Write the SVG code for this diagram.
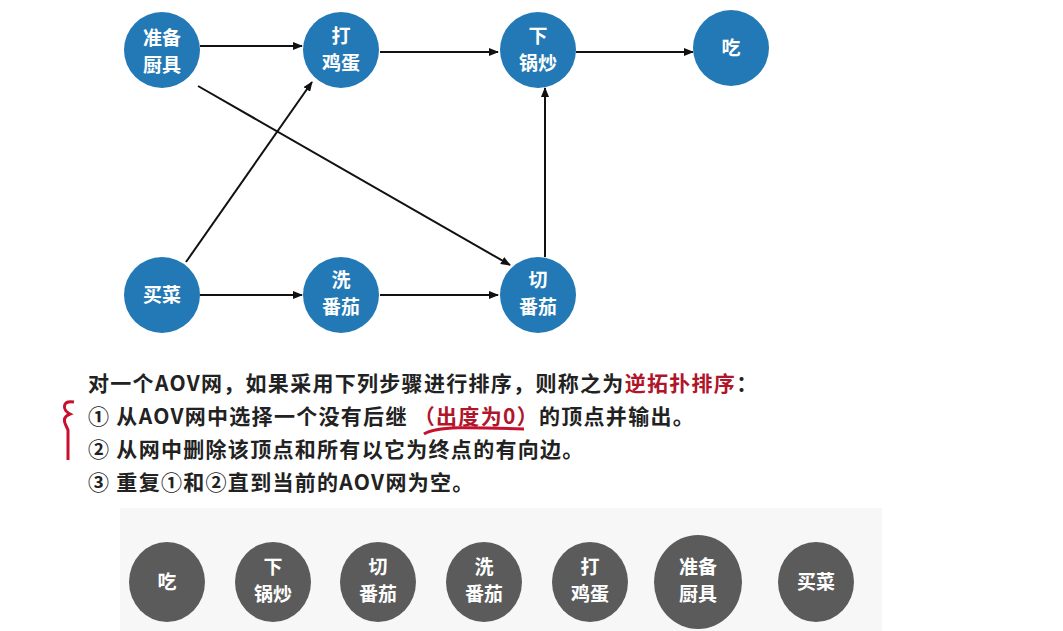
<svg xmlns="http://www.w3.org/2000/svg" width="1063" height="631" viewBox="0 0 1063 631">
<style>
.n{fill:#2379b5}
.g{fill:#5b5b5b}
.t{fill:#fff;font-family:"Noto Sans CJK SC",sans-serif;font-size:19px;font-weight:bold;text-anchor:middle}
.e{stroke:#111;stroke-width:2;fill:none;marker-end:url(#a)}
.p{font-family:"Noto Sans CJK SC",sans-serif;font-size:21px;font-weight:bold;fill:#222;letter-spacing:1.3px}
</style>
<defs><marker id="a" markerWidth="10" markerHeight="8" refX="9" refY="4" orient="auto" markerUnits="userSpaceOnUse"><path d="M0,0L10,4L0,8z" fill="#111"/></marker></defs>
<rect width="1063" height="631" fill="#fff"/>
<g id="edges">
<line class="e" x1="200" y1="46" x2="302" y2="46"/>
<line class="e" x1="380" y1="52" x2="498" y2="52"/>
<line class="e" x1="576" y1="52" x2="693" y2="52"/>
<line class="e" x1="200" y1="295" x2="302" y2="295"/>
<line class="e" x1="380" y1="295" x2="498" y2="295"/>
<line class="e" x1="545" y1="257" x2="545" y2="88"/>
<line class="e" x1="198" y1="86" x2="510" y2="265"/>
<line class="e" x1="186" y1="262" x2="312" y2="82"/>
</g>
<g id="n1"><circle class="n" cx="162" cy="50" r="38"/><text class="t" x="162" y="45">准备</text><text class="t" x="162" y="72">厨具</text></g>
<g id="n2"><circle class="n" cx="341" cy="50" r="38"/><text class="t" x="341" y="43">打</text><text class="t" x="341" y="70">鸡蛋</text></g>
<g id="n3"><circle class="n" cx="538" cy="50" r="38"/><text class="t" x="538" y="43">下</text><text class="t" x="538" y="70">锅炒</text></g>
<g id="n4"><circle class="n" cx="731" cy="48" r="38"/><text class="t" x="731" y="55">吃</text></g>
<g id="n5"><circle class="n" cx="162" cy="295" r="38"/><text class="t" x="162" y="302">买菜</text></g>
<g id="n6"><circle class="n" cx="341" cy="295" r="38"/><text class="t" x="341" y="287">洗</text><text class="t" x="341" y="314">番茄</text></g>
<g id="n7"><circle class="n" cx="538" cy="295" r="38"/><text class="t" x="538" y="287">切</text><text class="t" x="538" y="314">番茄</text></g>
<text class="p" x="88" y="391">对一个AOV网，如果采用下列步骤进行排序，则称之为<tspan fill="#b0162a">逆拓扑排序</tspan>：</text>
<text class="p" x="88" y="424">① 从AOV网中选择一个没有后继 <tspan fill="#b0162a">（出度为0）</tspan>的顶点并输出。</text>
<text class="p" x="88" y="457">② 从网中删除该顶点和所有以它为终点的有向边。</text>
<text class="p" x="88" y="490">③ 重复①和②直到当前的AOV网为空。</text>
<path d="M424,434 C436,426 470,427 524,429" stroke="#c8102e" stroke-width="3" fill="none"/>
<path d="M74,402 C62,400 62,410 70,414 C60,418 66,425 68,430 L68,460" stroke="#c8102e" stroke-width="3" fill="none"/>
<rect x="120" y="508" width="762" height="123" fill="#f7f7f7"/>
<g id="b1"><ellipse class="g" cx="167" cy="582" rx="38" ry="40"/><text class="t" x="167" y="589">吃</text></g>
<g id="b2"><ellipse class="g" cx="273" cy="582" rx="38" ry="40"/><text class="t" x="273" y="574">下</text><text class="t" x="273" y="601">锅炒</text></g>
<g id="b3"><ellipse class="g" cx="378" cy="582" rx="38" ry="40"/><text class="t" x="378" y="574">切</text><text class="t" x="378" y="601">番茄</text></g>
<g id="b4"><ellipse class="g" cx="484" cy="582" rx="38" ry="40"/><text class="t" x="484" y="574">洗</text><text class="t" x="484" y="601">番茄</text></g>
<g id="b5"><ellipse class="g" cx="590" cy="582" rx="38" ry="40"/><text class="t" x="590" y="574">打</text><text class="t" x="590" y="601">鸡蛋</text></g>
<g id="b6"><ellipse class="g" cx="698" cy="582" rx="44" ry="47"/><text class="t" x="698" y="574">准备</text><text class="t" x="698" y="601">厨具</text></g>
<g id="b7"><ellipse class="g" cx="816" cy="582" rx="38" ry="40"/><text class="t" x="816" y="589">买菜</text></g>
</svg>
